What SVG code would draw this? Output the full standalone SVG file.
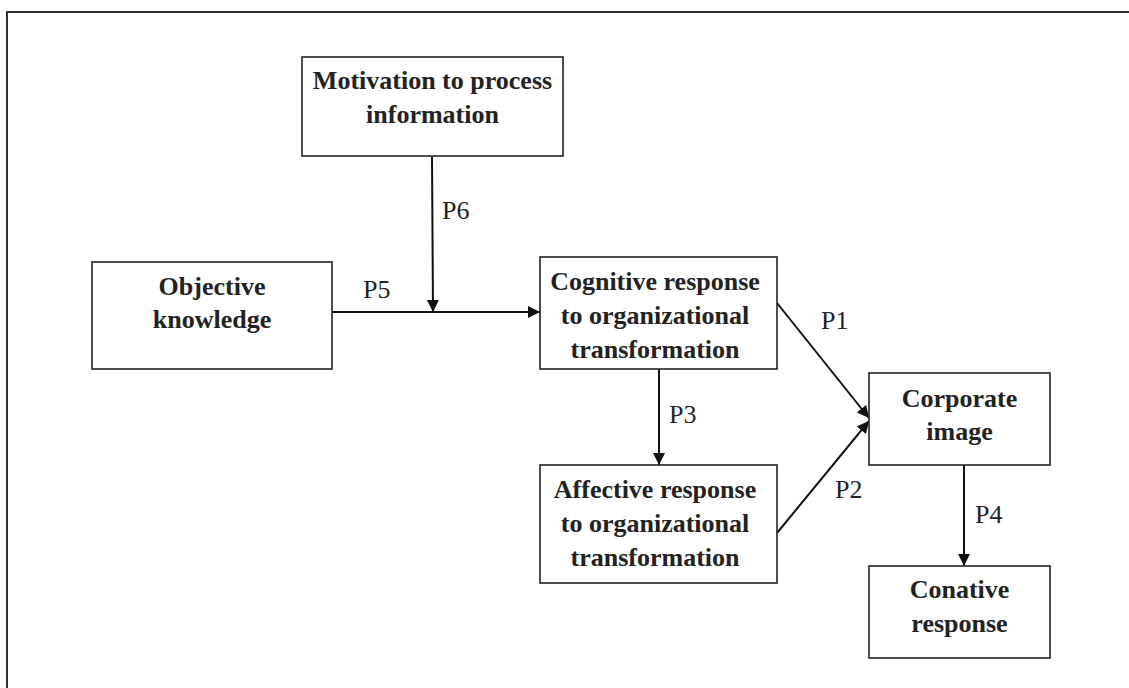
<svg xmlns="http://www.w3.org/2000/svg" width="1129" height="688" viewBox="0 0 1129 688">
<style>
.box{fill:#fff;stroke:#222;stroke-width:1.6}
.t{font-family:"Liberation Serif","Times New Roman",serif;font-size:26px;font-weight:bold;fill:#222;text-anchor:middle}
.lbl{font-family:"Liberation Serif","Times New Roman",serif;font-size:26px;fill:#222}
.c{stroke:#111;stroke-width:2;fill:none;marker-end:url(#ah)}
</style>
<defs>
<marker id="ah" markerUnits="userSpaceOnUse" markerWidth="12" markerHeight="12" refX="12" refY="6" orient="auto">
<path d="M0,0 L12,6 L0,12 z" fill="#111"/>
</marker>
</defs>
<rect width="1129" height="688" fill="#fff"/>
<path d="M7,688 L7,12 L1129,12" fill="none" stroke="#333" stroke-width="2"/>
<g id="connectors">
<line class="c" x1="432" y1="157" x2="433" y2="312"/>
<line class="c" x1="332" y1="312" x2="540" y2="312"/>
<line class="c" x1="659" y1="369" x2="659" y2="465"/>
<line class="c" x1="777" y1="303" x2="869" y2="418"/>
<line class="c" x1="777" y1="533" x2="869" y2="421"/>
<line class="c" x1="964" y1="465" x2="964" y2="566"/>
<text class="lbl" x="442" y="219">P6</text>
<text class="lbl" x="363" y="298">P5</text>
<text class="lbl" x="821" y="329">P1</text>
<text class="lbl" x="669" y="423">P3</text>
<text class="lbl" x="835" y="498">P2</text>
<text class="lbl" x="975" y="523">P4</text>
</g>
<g id="motivation">
<rect class="box" x="302" y="57" width="261" height="99"/>
<text class="t" x="432.5" y="89">Motivation to process</text>
<text class="t" x="432.5" y="123">information</text>
</g>
<g id="objective">
<rect class="box" x="92" y="262" width="240" height="107"/>
<text class="t" x="212" y="295">Objective</text>
<text class="t" x="212" y="328">knowledge</text>
</g>
<g id="cognitive">
<rect class="box" x="540" y="257" width="237" height="112"/>
<text class="t" x="655" y="290">Cognitive response</text>
<text class="t" x="655" y="324">to organizational</text>
<text class="t" x="655" y="358">transformation</text>
</g>
<g id="affective">
<rect class="box" x="540" y="465" width="237" height="118"/>
<text class="t" x="655" y="498">Affective response</text>
<text class="t" x="655" y="532">to organizational</text>
<text class="t" x="655" y="566">transformation</text>
</g>
<g id="corporate">
<rect class="box" x="869" y="373" width="181" height="92"/>
<text class="t" x="959.5" y="407">Corporate</text>
<text class="t" x="959.5" y="440">image</text>
</g>
<g id="conative">
<rect class="box" x="869" y="566" width="181" height="92"/>
<text class="t" x="959.5" y="598">Conative</text>
<text class="t" x="959.5" y="632">response</text>
</g>
</svg>
